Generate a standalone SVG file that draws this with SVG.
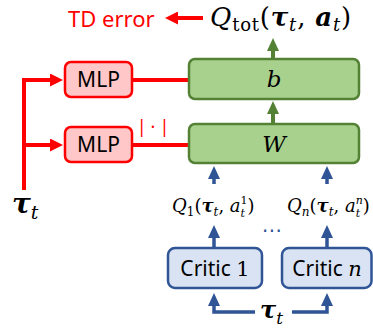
<svg xmlns="http://www.w3.org/2000/svg" width="373" height="332" viewBox="0 0 373 332">
<defs>
<style>
.red{stroke:#ff0000;stroke-width:4;fill:none}
.grn{stroke:#548235;stroke-width:4;fill:none}
.blu{stroke:#2f5597;stroke-width:3.5;fill:none}
.mlp{fill:#ffc7c7;stroke:#ff0000;stroke-width:2.5}
.gbox{fill:#a9d18e;stroke:#548235;stroke-width:2.5}
.cbox{fill:#dae3f3;stroke:#2f5597;stroke-width:2.5}
.sans{font-family:"Noto Sans","Open Sans","DejaVu Sans",sans-serif}
.math{font-family:"DejaVu Serif","Liberation Serif",serif;fill:#000}
.it{font-style:italic}
.bi{font-style:italic;font-weight:bold}
</style>
<marker id="ar" markerUnits="userSpaceOnUse" markerWidth="13" markerHeight="13" refX="0" refY="6.5" orient="auto"><path d="M0,0 L13,6.5 L0,13 z" fill="#ff0000"/></marker>
<marker id="ag" markerUnits="userSpaceOnUse" markerWidth="13" markerHeight="12" refX="0" refY="6" orient="auto"><path d="M0,0 L13,6 L0,12 z" fill="#548235"/></marker>
<marker id="ab" markerUnits="userSpaceOnUse" markerWidth="13" markerHeight="12" refX="0" refY="6" orient="auto"><path d="M0,0 L13,6 L0,12 z" fill="#2f5597"/></marker>
</defs>

<g id="connectors">
<line class="red" x1="203" y1="18" x2="178" y2="18" marker-end="url(#ar)"/>
<path class="red" d="M24,190 V80 H50" stroke-linejoin="miter" marker-end="url(#ar)"/>
<path class="red" d="M24,145 H50" marker-end="url(#ar)"/>
<line class="red" x1="132" y1="80" x2="192" y2="80" marker-end="url(#ar)"/>
<line class="red" x1="132" y1="145" x2="192" y2="145" marker-end="url(#ar)"/>
<line class="grn" x1="273" y1="59" x2="273" y2="51" marker-end="url(#ag)"/>
<line class="grn" x1="273" y1="124" x2="273" y2="114" marker-end="url(#ag)"/>
<line class="blu" x1="214" y1="184" x2="214" y2="179" marker-end="url(#ab)"/>
<line class="blu" x1="327" y1="184" x2="327" y2="179" marker-end="url(#ab)"/>
<line class="blu" x1="214" y1="248" x2="214" y2="238" marker-end="url(#ab)"/>
<line class="blu" x1="327" y1="248" x2="327" y2="238" marker-end="url(#ab)"/>
<path class="blu" d="M255,312 H214 V306" marker-end="url(#ab)"/>
<path class="blu" d="M292,312 H327 V306" marker-end="url(#ab)"/>
</g>

<g id="td-error"><text class="sans" x="68" y="27" font-size="22" fill="#ff0000">TD error</text></g>

<g id="qtot"><text class="math" x="210" y="26" font-size="26" letter-spacing="0.8"><tspan class="it">Q</tspan><tspan font-size="18" dy="5">tot</tspan><tspan dy="-5">(</tspan><tspan class="bi">τ</tspan><tspan class="it" font-size="18" dy="5">t</tspan><tspan dy="-5">, </tspan><tspan class="bi">a</tspan><tspan class="it" font-size="18" dy="5">t</tspan><tspan dy="-5">)</tspan></text></g>

<g id="node-b"><rect class="gbox" x="189" y="59" width="170" height="40" rx="6"/><text class="math it" x="274" y="87" font-size="23" text-anchor="middle">b</text></g>
<g id="node-W"><rect class="gbox" x="189" y="124" width="170" height="39" rx="6"/><text class="math it" x="274" y="152" font-size="23" text-anchor="middle">W</text></g>

<g id="mlp-b"><rect class="mlp" x="65" y="62" width="67" height="35" rx="6"/><text class="sans" x="98.5" y="87" font-size="21" text-anchor="middle" fill="#000">MLP</text></g>
<g id="mlp-w"><rect class="mlp" x="65" y="127" width="67" height="35" rx="6"/><text class="sans" x="98.5" y="152" font-size="21" text-anchor="middle" fill="#000">MLP</text></g>
<g id="abs-label"><text class="sans" x="155" y="133" font-size="18" text-anchor="middle" fill="#ff0000" letter-spacing="4">|·|</text></g>

<g id="tau-left"><text class="math" x="12" y="213" font-size="28"><tspan class="bi">τ</tspan><tspan class="it" font-size="19" dy="6">t</tspan></text></g>

<g id="q1"><text class="math" x="172" y="212" font-size="18"><tspan class="it">Q</tspan><tspan font-size="12" dy="4">1</tspan><tspan dy="-4">(</tspan><tspan class="bi">τ</tspan><tspan class="it" font-size="12" dy="4">t</tspan><tspan dy="-4">, </tspan><tspan class="it">a</tspan><tspan font-size="11" dy="-8">1</tspan><tspan class="it" font-size="11" dx="-7" dy="13">t</tspan><tspan dx="2.5" dy="-5">)</tspan></text></g>
<g id="qn"><text class="math" x="287" y="212" font-size="18"><tspan class="it">Q</tspan><tspan class="it" font-size="12" dy="4">n</tspan><tspan dy="-4">(</tspan><tspan class="bi">τ</tspan><tspan class="it" font-size="12" dy="4">t</tspan><tspan dy="-4">, </tspan><tspan class="it">a</tspan><tspan class="it" font-size="11" dy="-8">n</tspan><tspan class="it" font-size="11" dx="-7" dy="13">t</tspan><tspan dx="2.5" dy="-5">)</tspan></text></g>

<g id="dots"><text x="272" y="237" font-family="DejaVu Sans, sans-serif" font-size="20" text-anchor="middle" fill="#2f5597">⋯</text></g>

<g id="critic-1"><rect class="cbox" x="168" y="248" width="94" height="40" rx="7"/><text class="sans" x="215" y="276" font-size="21" text-anchor="middle" fill="#000">Critic <tspan class="math" fill="#000">1</tspan></text></g>
<g id="critic-n"><rect class="cbox" x="282" y="248" width="89.5" height="40" rx="7"/><text class="sans" x="327" y="276" font-size="21" text-anchor="middle" fill="#000">Critic <tspan class="math it">n</tspan></text></g>

<g id="tau-bottom"><text class="math" x="260" y="318" font-size="24"><tspan class="bi">τ</tspan><tspan class="it" font-size="17" dy="6">t</tspan></text></g>
</svg>
